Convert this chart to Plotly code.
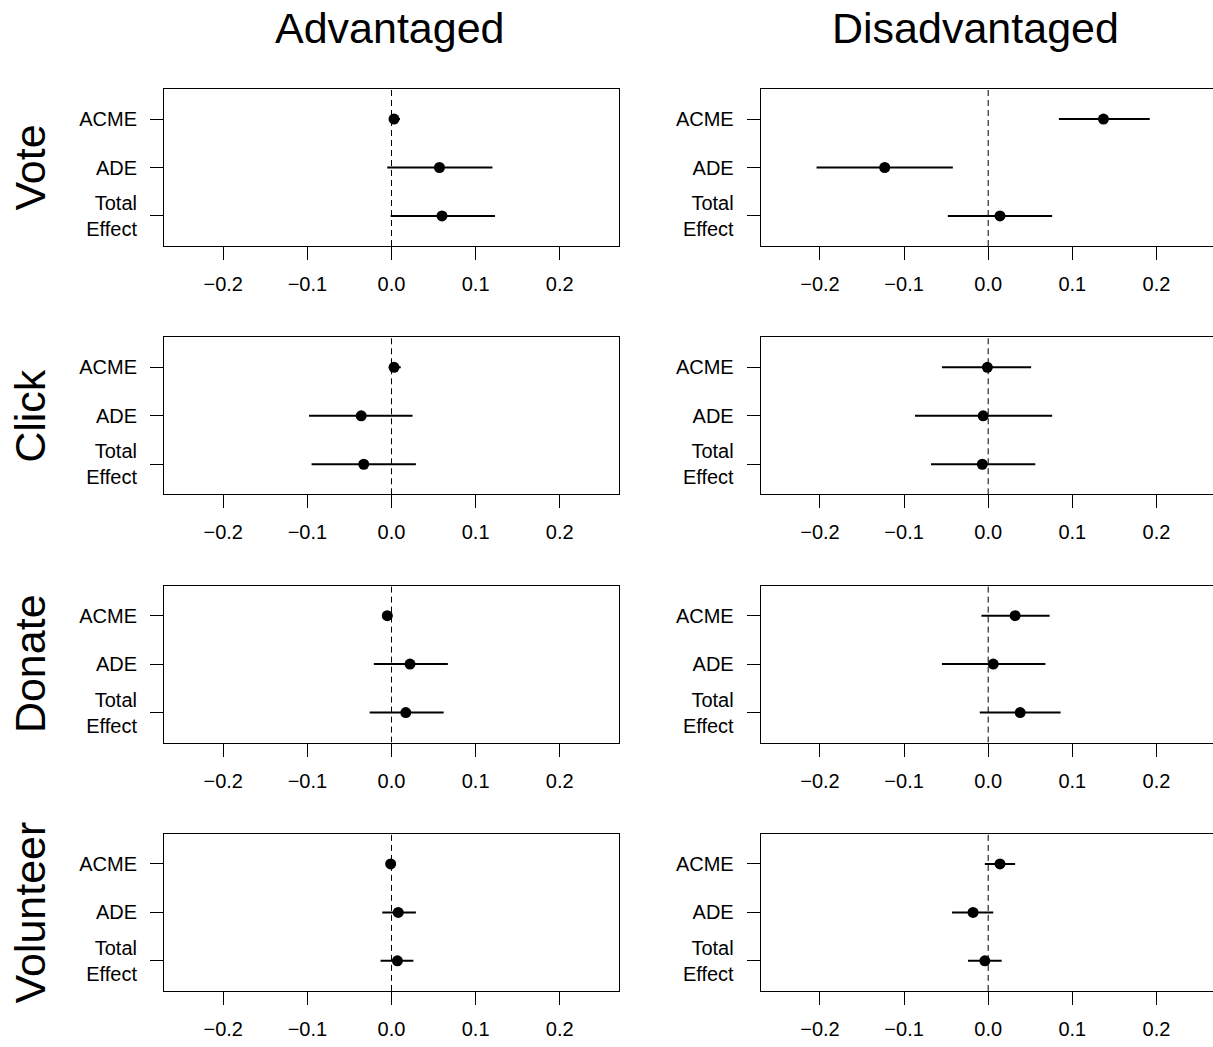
import plotly.graph_objects as go

W, H = 1213, 1047

outcomes = ["Vote", "Click", "Donate", "Volunteer"]
groups = ["Advantaged", "Disadvantaged"]
effects = ["ACME", "ADE", "Total<br>Effect"]
effect_pos = [3, 2, 1]

x_ticks = [-0.2, -0.1, 0.0, 0.1, 0.2]
x_ticktext = ["\u22120.2", "\u22120.1", "0.0", "0.1", "0.2"]

# Advantaged: rows = outcomes, cols = ACME, ADE, Total Effect
adv_est = [[0.003, 0.057, 0.060],
           [0.003, -0.036, -0.033],
           [-0.005, 0.022, 0.017],
           [-0.001, 0.008, 0.007]]
adv_lo = [[-0.003, -0.005, -0.001],
          [-0.003, -0.098, -0.095],
          [-0.011, -0.021, -0.026],
          [-0.004, -0.011, -0.013]]
adv_hi = [[0.010, 0.120, 0.123],
          [0.011, 0.025, 0.029],
          [0.001, 0.067, 0.062],
          [0.002, 0.029, 0.026]]

# Disadvantaged
dis_est = [[0.137, -0.123, 0.014],
           [-0.001, -0.006, -0.007],
           [0.032, 0.006, 0.038],
           [0.014, -0.018, -0.004]]
dis_lo = [[0.084, -0.204, -0.048],
          [-0.055, -0.087, -0.068],
          [-0.008, -0.055, -0.010],
          [-0.004, -0.043, -0.024]]
dis_hi = [[0.192, -0.042, 0.076],
          [0.051, 0.076, 0.056],
          [0.073, 0.068, 0.086],
          [0.032, 0.006, 0.016]]

FONT = "Liberation Sans, Arial, Helvetica, sans-serif"

# layout geometry (pixels)
col_left = [164.0, 760.7]
box_w = 455.0
row_top0 = 89.0
row_step = 248.3
box_h = 157.0
xlim = 0.2704
ylim = [0.38, 3.62]
px_per_unit = box_w / (2 * xlim)

fig = go.Figure()

data = [(adv_est, adv_lo, adv_hi), (dis_est, dis_lo, dis_hi)]

n = 0
for r in range(4):
    top = row_top0 + r * row_step
    bot = top + box_h
    ydom = [1 - bot / H, 1 - top / H]
    for c in range(2):
        n += 1
        left = col_left[c]
        right = left + box_w
        if right <= W:
            xdom = [left / W, right / W]
            xr = [-xlim, xlim]
            ymirror = True
        else:
            xdom = [left / W, 1.0]
            xr = [-xlim, -xlim + (W - left) / px_per_unit]
            ymirror = False
        est, lo, hi = data[c]
        e = est[r]
        l = lo[r]
        h = hi[r]
        xa = "x" if n == 1 else f"x{n}"
        ya = "y" if n == 1 else f"y{n}"
        # zero reference line
        fig.add_trace(go.Scatter(
            x=[0, 0], y=ylim, mode="lines",
            line=dict(color="black", width=1, dash="6px,4px"),
            xaxis=xa, yaxis=ya, showlegend=False, hoverinfo="skip"))
        fig.add_trace(go.Scatter(
            x=e, y=effect_pos, mode="markers",
            marker=dict(color="black", size=11),
            error_x=dict(type="data", symmetric=False,
                         array=[h[i] - e[i] for i in range(3)],
                         arrayminus=[e[i] - l[i] for i in range(3)],
                         thickness=2, width=0, color="black"),
            xaxis=xa, yaxis=ya, showlegend=False))
        fig.layout[f"xaxis{'' if n == 1 else n}"] = dict(
            domain=xdom, range=xr, anchor=ya,
            tickvals=x_ticks, ticktext=x_ticktext,
            showgrid=False, zeroline=False,
            showline=True, linecolor="black", linewidth=1, mirror=True,
            ticks="outside", ticklen=13, tickwidth=1, tickcolor="black",
            ticklabelstandoff=7,
            tickfont=dict(family=FONT, size=20, color="black"))
        fig.layout[f"yaxis{'' if n == 1 else n}"] = dict(
            domain=ydom, range=ylim, anchor=xa,
            tickvals=effect_pos, ticktext=effects,
            showgrid=False, zeroline=False,
            showline=True, linecolor="black", linewidth=1, mirror=ymirror,
            ticks="outside", ticklen=13, tickwidth=1, tickcolor="black",
            ticklabelstandoff=9,
            tickfont=dict(family=FONT, size=20, color="black"))

annotations = []
title_x = [390.5, 975.0]
for c, g in enumerate(groups):
    annotations.append(dict(
        text=g, x=title_x[c] / W, y=1 - 28 / H, xref="paper", yref="paper",
        xanchor="center", yanchor="middle", showarrow=False,
        font=dict(family=FONT, size=43, color="black")))
for r, o in enumerate(outcomes):
    top = row_top0 + r * row_step
    yc = top + box_h / 2
    annotations.append(dict(
        text=o, x=30 / W, y=1 - yc / H, xref="paper", yref="paper",
        xanchor="center", yanchor="middle", showarrow=False, textangle=-90,
        font=dict(family=FONT, size=43, color="black")))

fig.update_layout(
    width=W, height=H, autosize=False,
    margin=dict(l=0, r=0, t=0, b=0),
    paper_bgcolor="white", plot_bgcolor="white",
    annotations=annotations,
    showlegend=False)

fig.write_html("out.html")
